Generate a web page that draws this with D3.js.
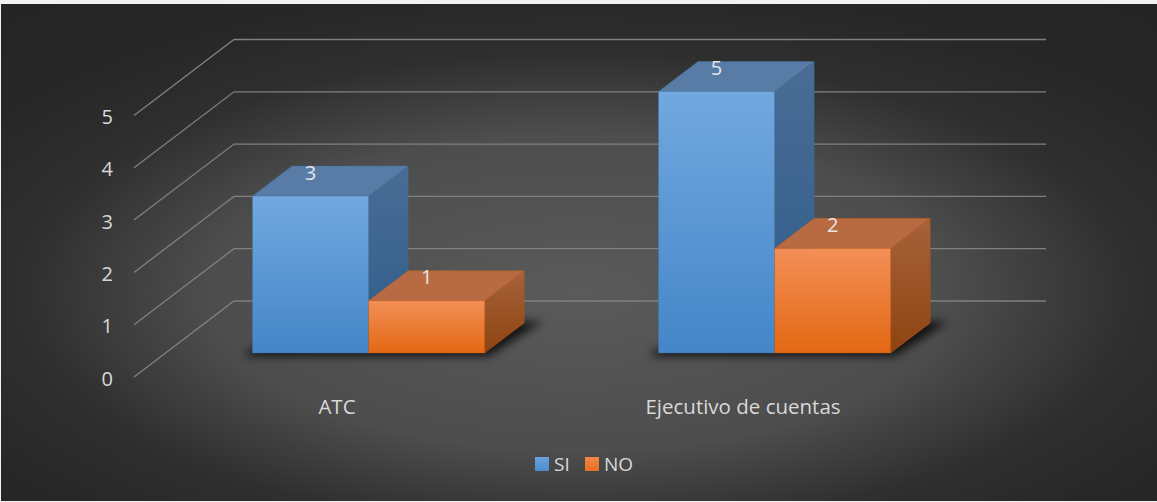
<!DOCTYPE html>
<html>
<head>
<meta charset="utf-8">
<script src="https://cdn.jsdelivr.net/npm/d3@7"></script>
<style>
html,body{margin:0;padding:0;background:#fff;}
svg{display:block;}
text{font-family:"Open Sans",sans-serif;}
</style>
</head>
<body>
<svg id="chart" width="1157" height="502"></svg>
<script>
const categories = ["ATC", "Ejecutivo de cuentas"];
const seriesNames = ["SI", "NO"];
const valuesSI = [3, 5];
const valuesNO = [1, 2];
const yTicks = [0, 1, 2, 3, 4, 5];

const W = 1157, H = 502;
const svg = d3.select("#chart");
const defs = svg.append("defs");

// background radial gradient
const bg = defs.append("radialGradient").attr("id", "bg")
  .attr("cx", 0.5).attr("cy", 0.58).attr("r", 0.8);
[[0, "#5a5a5a"], [0.4, "#4d4d4d"], [0.6, "#2f2f2f"], [0.76, "#272727"], [1, "#242424"]]
  .forEach(([o, c]) => bg.append("stop").attr("offset", o).attr("stop-color", c));

svg.append("rect").attr("width", W).attr("height", H).attr("fill", "#f2f2f2");
svg.append("rect").attr("x", 1).attr("y", 4).attr("width", W - 1).attr("height", H - 5).attr("fill", "url(#bg)");

function vGrad(id, top, bottom) {
  const g = defs.append("linearGradient").attr("id", id).attr("x1", 0).attr("y1", 0).attr("x2", 0).attr("y2", 1);
  g.append("stop").attr("offset", 0).attr("stop-color", top);
  g.append("stop").attr("offset", 1).attr("stop-color", bottom);
}
vGrad("frontSI", "#72a8df", "#4486c8");
vGrad("sideSI", "#4a6c94", "#2e5d8b");
vGrad("frontNO", "#f38f57", "#e36813");
vGrad("sideNO", "#a7623a", "#8e4411");
vGrad("legSI", "#6aa3dc", "#4a8dcd");
vGrad("legNO", "#f2874a", "#ea7020");

const styles = {
  SI: {front: "url(#frontSI)", side: "url(#sideSI)", top: "#587ca6", stroke: "#3f72a8"},
  NO: {front: "url(#frontNO)", side: "url(#sideNO)", top: "#b86b42", stroke: "#c25a14"}
};

const blur = defs.append("filter").attr("id", "shadow")
  .attr("x", "-20%").attr("y", "-50%").attr("width", "140%").attr("height", "200%");
blur.append("feGaussianBlur").attr("stdDeviation", 5);

// scales
const x0 = d3.scaleBand().domain(categories).range([134, 946]);
const groupW = x0.bandwidth() * 0.572;
const x1 = d3.scaleBand().domain(seriesNames).range([-groupW / 2, groupW / 2]);
const y = d3.scaleLinear().domain([0, 5]).range([377, 115.5]);

const DX = 100, DY = 76;          // depth projection of the full floor depth
const z0 = 0.316, z1 = 0.711;      // bar front / back depth
const P = (x, v, z) => [x + DX * z, y(v) - DY * z];

// gridlines
const grid = svg.append("g");
yTicks.forEach(t => {
  const a = P(x0.range()[0], t, 0), b = P(x0.range()[0], t, 1), c = P(x0.range()[1], t, 1);
  grid.append("polyline")
    .attr("points", [a, b, c].map(p => p.join(",")).join(" "))
    .attr("fill", "none").attr("stroke", "#808080").attr("stroke-width", 1.3);
});

// y tick labels
svg.append("g").selectAll("text").data(yTicks).join("text")
  .attr("x", 113).attr("y", d => y(d) + 1)
  .attr("text-anchor", "end").attr("dominant-baseline", "central")
  .attr("fill", "#d9d9d9").attr("font-size", 20).text(d => d);

// bars data
const bars = [];
categories.forEach((c, i) => {
  bars.push({cat: c, s: "SI", v: valuesSI[i]});
  bars.push({cat: c, s: "NO", v: valuesNO[i]});
});

// shadows
const shadowG = svg.append("g").attr("filter", "url(#shadow)");
categories.forEach(c => {
  const xl = x0(c) + x0.bandwidth() / 2 + x1.range()[0] - 6;
  const xr = x0(c) + x0.bandwidth() / 2 + x1.range()[1] + 8;
  const pts = [P(xl, 0, z0 - 0.04), P(xr, 0, z0 - 0.04), P(xr + 8, 0, z1 + 0.02), P(xl + 8, 0, z1 + 0.02)];
  shadowG.append("polygon").attr("points", pts.map(p => p.join(",")).join(" "))
    .attr("fill", "#000").attr("opacity", 0.8);
});

const barG = svg.append("g");
bars.forEach(b => {
  const xl = x0(b.cat) + x0.bandwidth() / 2 + x1(b.s);
  const xr = xl + x1.bandwidth();
  const st = styles[b.s];
  const g = barG.append("g");
  const poly = (pts, fill) => g.append("polygon")
    .attr("points", pts.map(p => p.join(",")).join(" "))
    .attr("fill", fill).attr("stroke", st.stroke).attr("stroke-width", 0.6).attr("stroke-opacity", 0.6);
  // side
  poly([P(xr, 0, z0), P(xr, 0, z1), P(xr, b.v, z1), P(xr, b.v, z0)], st.side);
  // top
  poly([P(xl, b.v, z0), P(xr, b.v, z0), P(xr, b.v, z1), P(xl, b.v, z1)], st.top);
  // front
  poly([P(xl, 0, z0), P(xr, 0, z0), P(xr, b.v, z0), P(xl, b.v, z0)], st.front);
});

// data labels
svg.append("g").selectAll("text").data(bars).join("text")
  .attr("x", d => P(x0(d.cat) + x0.bandwidth() / 2 + x1(d.s) + x1.bandwidth() / 2, d.v, z0)[0])
  .attr("y", d => P(0, d.v, z0)[1] - 24)
  .attr("text-anchor", "middle").attr("dominant-baseline", "central")
  .attr("fill", "#e6e6e6").attr("font-size", 20).text(d => d.v);

// category labels
svg.append("g").selectAll("text").data(categories).join("text")
  .attr("x", d => x0(d) + x0.bandwidth() / 2)
  .attr("y", 414)
  .attr("text-anchor", "middle")
  .attr("fill", "#d9d9d9").attr("font-size", 20.5).text(d => d);

// legend
const leg = svg.append("g");
const legX = [535, 585];
seriesNames.forEach((s, i) => {
  leg.append("rect").attr("x", legX[i]).attr("y", 457).attr("width", 14).attr("height", 14)
    .attr("fill", s === "SI" ? "url(#legSI)" : "url(#legNO)");
  leg.append("text").attr("x", legX[i] + 19).attr("y", 471)
    .attr("fill", "#d9d9d9").attr("font-size", 19).text(s);
});
</script>
</body>
</html>
